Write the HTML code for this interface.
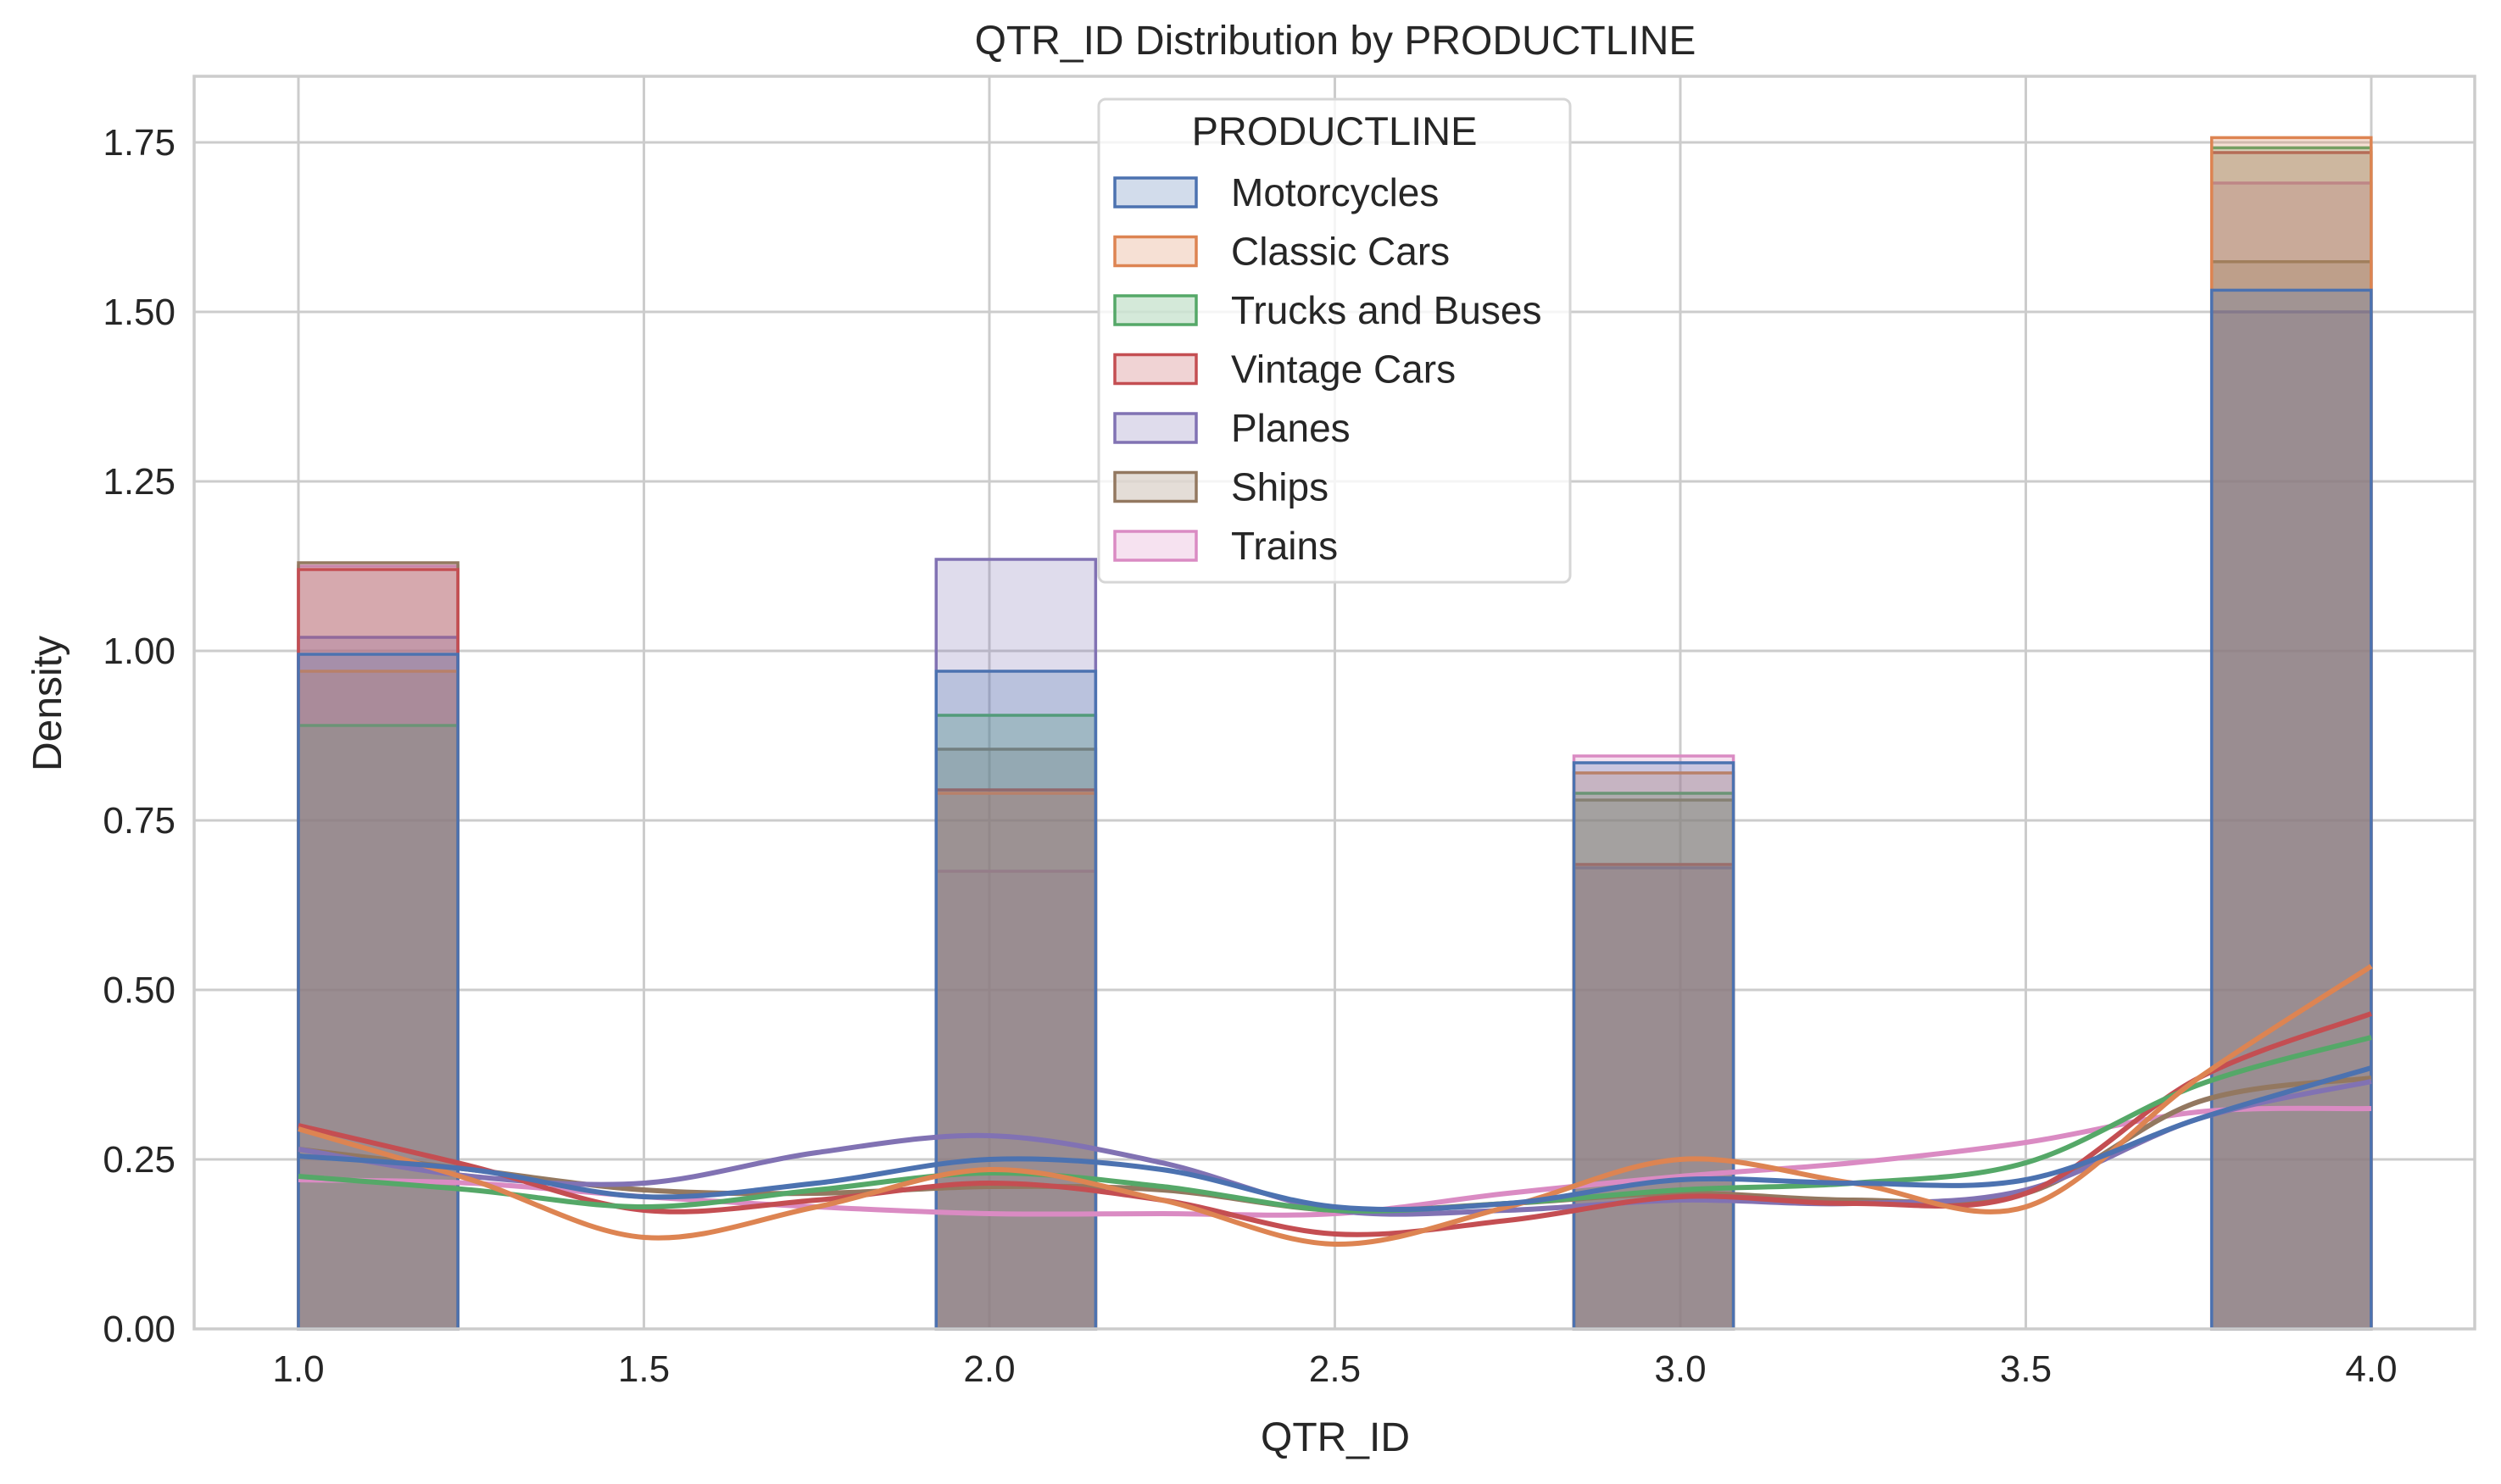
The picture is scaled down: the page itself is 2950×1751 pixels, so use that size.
<!DOCTYPE html>
<html><head><meta charset="utf-8"><style>
body{margin:0;background:#fff}
svg{display:block;font-family:"Liberation Sans",Arial,sans-serif}
</style></head><body>
<svg id="chart" width="2950" height="1751" viewBox="0 0 2950 1751">
<g id="grid"></g>
<g id="bars"></g>
<g id="kde"></g>
<g id="axes"></g>
<text x="1575" y="64" font-size="48" text-anchor="middle" fill="#262626">QTR_ID Distribution by PRODUCTLINE</text>
<text x="1575" y="1712" font-size="48" text-anchor="middle" fill="#262626">QTR_ID</text>
<text x="0" y="0" font-size="48" text-anchor="middle" fill="#262626" transform="translate(72,830) rotate(-90)">Density</text>
<g id="legend"></g>
</svg>
<script>
const seriesNames = ["Motorcycles","Classic Cars","Trucks and Buses","Vintage Cars","Planes","Ships","Trains"];
const seriesColors = ["#4c72b0","#dd8452","#55a868","#c44e52","#8172b3","#937860","#da8bc3"];
const binStarts = [1.0, 1.923, 2.846, 3.769];
const binWidth = 0.2308;
const motoBins = [0.995, 0.97, 0.835, 1.532];
const classicBins = [0.97, 0.79, 0.82, 1.757];
const trucksBins = [0.89, 0.905, 0.79, 1.742];
const vintageBins = [1.12, 0.795, 0.685, 1.735];
const planesBins = [1.02, 1.135, 0.68, 1.50];
const shipsBins = [1.13, 0.855, 0.78, 1.574];
const trainsBins = [1.125, 0.675, 0.845, 1.69];
const kdeX = [1.0,1.25,1.5,1.75,2.0,2.25,2.5,2.75,3.0,3.25,3.5,3.75,4.0];
const motoKde = [.255,.235,.195,.215,.25,.235,.18,.185,.22,.215,.22,.31,.385];
const classicKde = [.295,.22,.135,.18,.235,.19,.125,.18,.25,.215,.18,.37,.535];
const trucksKde = [.225,.205,.18,.205,.23,.21,.175,.185,.205,.215,.245,.36,.43];
const vintageKde = [.30,.24,.175,.19,.215,.19,.14,.16,.195,.185,.2,.37,.465];
const planesKde = [.265,.225,.215,.26,.285,.245,.175,.175,.19,.185,.205,.31,.365];
const shipsKde = [.265,.235,.205,.2,.21,.205,.175,.185,.2,.19,.2,.335,.37];
const trainsKde = [.22,.215,.195,.18,.17,.17,.17,.2,.225,.245,.275,.32,.325];
const xTicks = [1.0,1.5,2.0,2.5,3.0,3.5,4.0];
const xTickLabels = ["1.0","1.5","2.0","2.5","3.0","3.5","4.0"];
const yTicks = [0,0.25,0.5,0.75,1.0,1.25,1.5,1.75];
const yTickLabels = ["0.00","0.25","0.50","0.75","1.00","1.25","1.50","1.75"];

const binsAll = [motoBins,classicBins,trucksBins,vintageBins,planesBins,shipsBins,trainsBins];
const kdeAll = [motoKde,classicKde,trucksKde,vintageKde,planesKde,shipsKde,trainsKde];
const NS="http://www.w3.org/2000/svg";
const L=229,R=2919,T=90,B=1568;
const xs=v=>352+(v-1)*815;
const ys=v=>B-v*800;
function mk(tag,attrs,parent){const e=document.createElementNS(NS,tag);for(const k in attrs)e.setAttribute(k,attrs[k]);parent.appendChild(e);return e;}
const grid=document.getElementById('grid'),axes=document.getElementById('axes');
mk('rect',{x:L,y:T,width:R-L,height:B-T,fill:'#fff'},grid);
xTicks.forEach((t,i)=>{
  const l=mk('line',{x1:xs(t),x2:xs(t),y1:T,y2:B,stroke:'#cccccc','stroke-width':3},grid);
  
  
  const tx=mk('text',{x:xs(t),y:B+62,'font-size':44,'text-anchor':'middle',fill:'#262626'},axes);
  tx.textContent=xTickLabels[i];
  
  
});
yTicks.forEach((t,i)=>{
  const l=mk('line',{x1:L,x2:R,y1:ys(t),y2:ys(t),stroke:'#cccccc','stroke-width':3},grid);
  
  
  const tx=mk('text',{x:L-22,y:ys(t)+15,'font-size':44,'text-anchor':'end',fill:'#262626'},axes);
  tx.textContent=yTickLabels[i];
  
  
});
const frame=mk('rect',{x:L,y:T,width:R-L,height:B-T,fill:'none',stroke:'#cccccc','stroke-width':3.5},axes);


const bars=document.getElementById('bars');
for(let s=binsAll.length-1;s>=0;s--){
  binsAll[s].forEach((v,i)=>{
    const x0=xs(binStarts[i]),x1=xs(binStarts[i]+binWidth);
    const r=mk('rect',{x:x0,y:ys(v),width:x1-x0,height:ys(0)-ys(v),fill:seriesColors[s],'fill-opacity':0.25,stroke:seriesColors[s],'stroke-width':3.5},bars);
    
    
  });
}
const kde=document.getElementById('kde');
for(let s=kdeAll.length-1;s>=0;s--){
  const arr=kdeAll[s];
  const p=kdeX.map((x,i)=>[xs(x),ys(arr[i])]);
  let d='M'+p[0][0]+','+p[0][1];
  for(let i=0;i<p.length-1;i++){
    const p0=p[Math.max(0,i-1)],p1=p[i],p2=p[i+1],p3=p[Math.min(p.length-1,i+2)];
    const c1=[p1[0]+(p2[0]-p0[0])/6,p1[1]+(p2[1]-p0[1])/6];
    const c2=[p2[0]-(p3[0]-p1[0])/6,p2[1]-(p3[1]-p1[1])/6];
    d+=' C'+c1[0]+','+c1[1]+' '+c2[0]+','+c2[1]+' '+p2[0]+','+p2[1];
  }
  const path=mk('path',{d:d,fill:'none',stroke:seriesColors[s],'stroke-width':6},kde);
  
  
}
const lg=document.getElementById('legend');
mk('rect',{x:1296,y:117,width:556,height:570,rx:8,fill:'#fff','fill-opacity':0.8,stroke:'#d6d6d6','stroke-width':3},lg);
const lt=mk('text',{x:1574,y:171,'font-size':47,'text-anchor':'middle',fill:'#262626'},lg);
lt.textContent='PRODUCTLINE';


seriesNames.forEach((n,i)=>{
  const cy=227+i*69.5;
  const g=mk('g',{},lg);
  
  
  mk('rect',{x:1315,y:cy-17,width:96,height:34,fill:seriesColors[i],'fill-opacity':0.25,stroke:seriesColors[i],'stroke-width':3.5},g);
  const t=mk('text',{x:1452,y:cy+16,'font-size':46,fill:'#262626'},g);
  t.textContent=n;
});
</script>
</body></html>
